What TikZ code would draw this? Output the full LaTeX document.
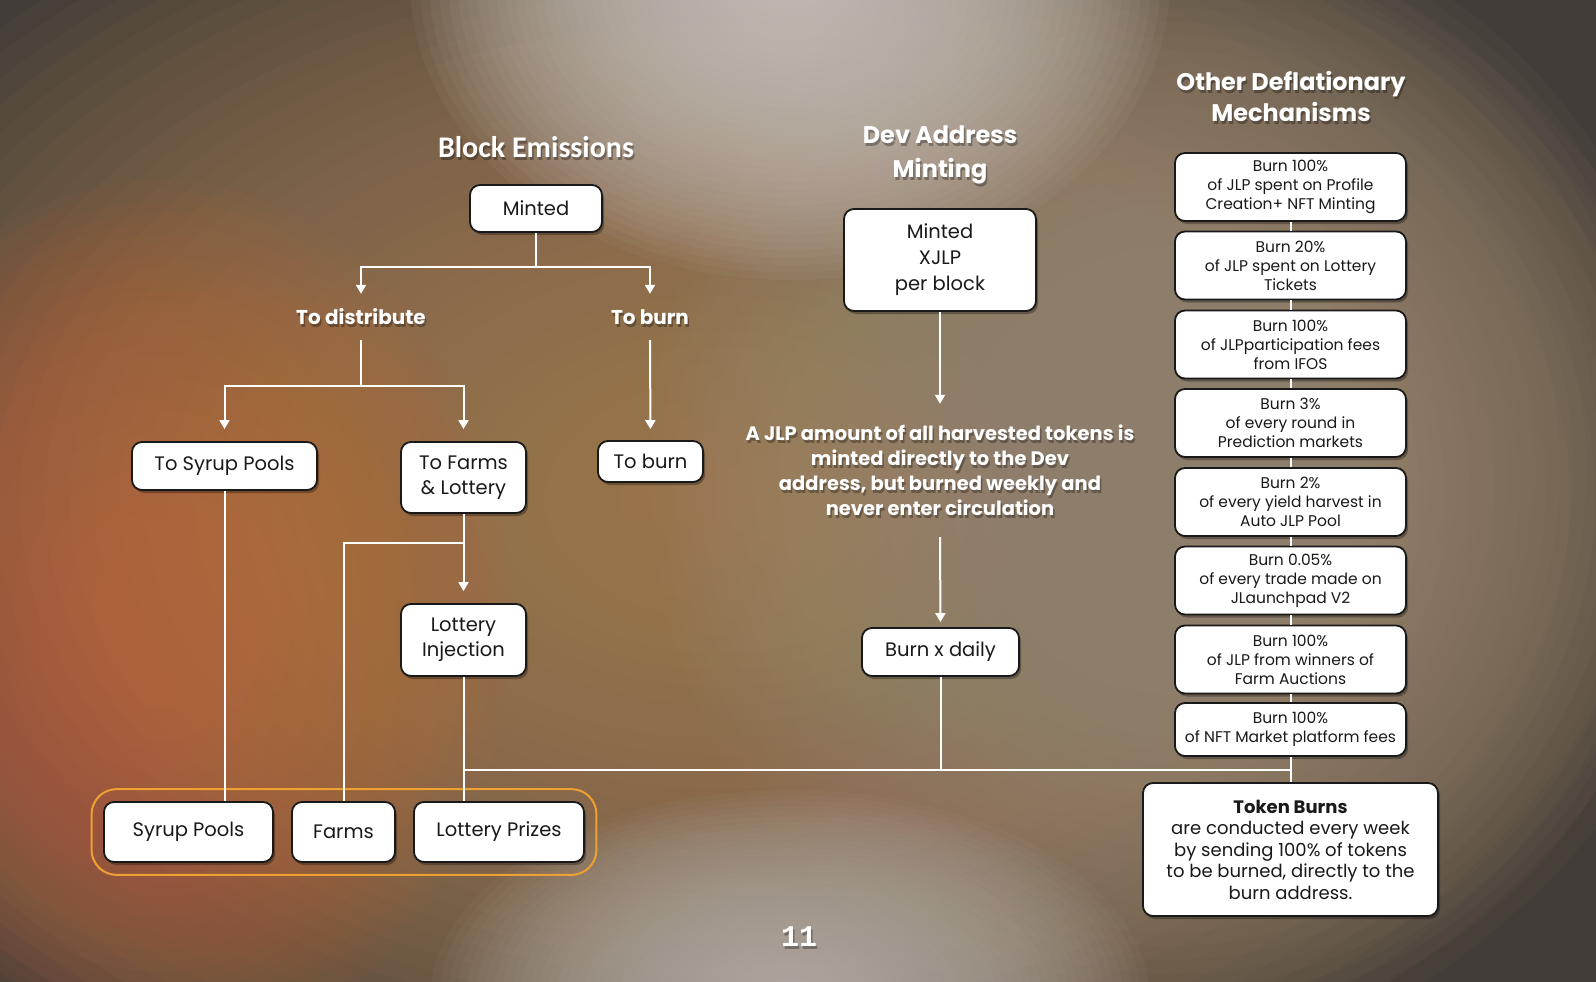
\documentclass[tikz,border=0pt]{standalone}
\usepackage{fontspec}
\setmainfont{Poppins}
\newfontfamily\carl{Carlito}
\newfontfamily\monob{Liberation Mono}
\usetikzlibrary{arrows.meta,shadows,fit,calc}

\definecolor{bgbase}{RGB}{66,61,56}
\definecolor{bgtan}{RGB}{172,132,92}
\definecolor{bgorng}{RGB}{192,106,60}
\definecolor{bglite}{RGB}{206,201,195}
\definecolor{bggray}{RGB}{162,146,128}
\definecolor{obox}{RGB}{238,160,50}
\definecolor{ink}{RGB}{25,25,25}

\tikzset{
 box/.style={draw=ink, line width=1.8pt, fill=white, rounded corners=10pt, inner sep=0pt,
   align=center, text=ink, font=\fontsize{19.5}{25}\selectfont,
   drop shadow={shadow xshift=2pt, shadow yshift=-3pt, opacity=0.3, fill=black}},
 sbox/.style={box, minimum width=231pt, minimum height=68pt, font=\fontsize{15.5}{19}\selectfont},
 conn/.style={draw=white, line width=2pt},
 arr/.style={conn, -{Triangle[width=10pt,length=9pt]}},
 wlbl/.style={text=white, font=\bfseries\fontsize{20}{24}\selectfont, inner sep=0pt, align=center},
 wtitle/.style={text=white, font=\bfseries\fontsize{24}{32}\selectfont, inner sep=0pt, align=center},
 obrd/.style={draw=obox, line width=2pt, rounded corners=25pt},
}
\newcommand\shlabel[4]{%
  \node[#3, text=black, text opacity=0.3] (#1-sh) at ($#2+(1.5,3)$) {#4};
  \node[#3] (#1) at #2 {#4};}
% soft glow: many concentric translucent ellipses
\newcommand\glow[5]{%
  \foreach \k in {1,...,40}{\fill[#4, opacity=#5] #1 ellipse ({#2/40*\k} and {#3/40*\k});}}

\begin{document}
\begin{tikzpicture}[x=1pt,y=-1pt]
\useasboundingbox (0,0) rectangle (1596,982);
% background
\begin{scope}
\clip (0,0) rectangle (1596,982);
\fill[bgbase] (0,0) rectangle (1596,982);
\glow{(720,500)}{1000}{680}{bgtan}{0.055}
\glow{(1170,470)}{520}{560}{bggray}{0.049}
\glow{(160,620)}{350}{440}{bgorng}{0.049}
\glow{(790,-20)}{380}{300}{bglite}{0.058}
\glow{(790,1000)}{360}{210}{bglite!92!black}{0.052}
\end{scope}

% titles
\shlabel{blockem}{(536,147)}{wtitle, font=\carl\bfseries\fontsize{30}{32}\selectfont}{Block Emissions}
\shlabel{devtitle}{(940,155)}{wtitle, font=\bfseries\fontsize{24}{34}\selectfont}{Dev Address\\Minting}
\shlabel{othertitle}{(1291,96)}{wtitle, font=\bfseries\fontsize{24}{31}\selectfont}{Other Deflationary\\Mechanisms}

% block emissions tree
\node[box, minimum width=132pt, minimum height=47pt] (minted) at (536,208.5) {Minted};
\shlabel{dist}{(361,317)}{wlbl, minimum height=46pt}{To distribute}
\shlabel{burnlbl}{(650,317)}{wlbl, minimum height=46pt}{To burn}
\node[box, minimum width=185pt, minimum height=48pt] (tosyrup) at (224.5,466) {To Syrup Pools};
\node[box, minimum width=125pt, minimum height=71pt] (tofarms) at (463.5,477.5) {To Farms\\\& Lottery};
\node[box, minimum width=105pt, minimum height=41pt] (toburn) at (650.5,461.5) {To burn};
\node[box, minimum width=125pt, minimum height=72pt] (lottinj) at (463.5,640) {Lottery\\Injection};
\node[box, minimum width=169pt, minimum height=60pt] (syrup) at (188.5,832) {Syrup Pools};
\node[box, minimum width=103pt, minimum height=60pt] (farms) at (343.5,832) {Farms};
\node[box, minimum width=170pt, minimum height=60pt] (prizes) at (499,832) {Lottery Prizes};
\node[obrd, fit=(syrup)(farms)(prizes), inner xsep=11.5pt, inner ysep=12pt] (group) {};

\coordinate (jm) at (536,267);
\coordinate (jd) at (361,386);
\coordinate (jf) at (463.5,543);
\draw[conn] (minted.south) -- (jm);
\draw[arr] (jm) -| (dist.north);
\draw[arr] (jm) -| (burnlbl.north);
\draw[conn] (dist.south) -- (jd);
\draw[arr, shorten >=12pt] (jd) -| (tosyrup.north);
\draw[arr, shorten >=12pt] (jd) -| (tofarms.north);
\draw[arr, shorten >=11pt] (burnlbl.south) -- (toburn.north);
\draw[arr, shorten >=12pt] (tofarms.south) -- (lottinj.north);
\draw[conn] (jf) -| (farms.north);
\draw[conn] (tosyrup.south) -- (tosyrup.south |- syrup.north);
\draw[conn] (lottinj.south) -- (lottinj.south |- prizes.north);

% dev address
\node[box, minimum width=192pt, minimum height=102pt, font=\fontsize{19.5}{26}\selectfont] (mx) at (940,260) {Minted\\XJLP\\per block};
\shlabel{big}{(940,470.5)}{wlbl, font=\bfseries\fontsize{19.5}{25}\selectfont, minimum height=133pt}{A JLP amount of all harvested tokens is\\minted directly to the Dev\\address, but burned weekly and\\never enter circulation}
\node[box, minimum width=157pt, minimum height=48pt] (burnx) at (940.5,652) {Burn x daily};
\draw[arr] (mx.south) -- (big.north);
\draw[arr, shorten >=5pt] (big.south) -- (burnx.north);

% other mechanisms
\node[sbox] (s1) at (1290.5,187) {Burn 100\%\\of JLP spent on Profile\\Creation+ NFT Minting};
\node[sbox] (s2) at (1290.5,265.5) {Burn 20\%\\of JLP spent on Lottery\\Tickets};
\node[sbox] (s3) at (1290.5,344.5) {Burn 100\%\\of JLPparticipation fees\\from IFOS};
\node[sbox] (s4) at (1290.5,423) {Burn 3\%\\of every round in\\Prediction markets};
\node[sbox] (s5) at (1290.5,502) {Burn 2\%\\of every yield harvest in\\Auto JLP Pool};
\node[sbox] (s6) at (1290.5,580.5) {Burn 0.05\%\\of every trade made on\\JLaunchpad V2};
\node[sbox] (s7) at (1290.5,659.5) {Burn 100\%\\of JLP from winners of\\Farm Auctions};
\node[sbox, minimum height=53pt] (s8) at (1290.5,729.5) {Burn 100\%\\of NFT Market platform fees};
\node[box, minimum width=295pt, minimum height=133pt, font=\fontsize{18}{21.5}\selectfont] (tokens) at (1290.5,849.5) {\textbf{Token Burns}\\are conducted every week\\by sending 100\% of tokens\\to be burned, directly to the\\burn address.};
\draw[conn] (s1.south) -- (s2.north);
\draw[conn] (s2.south) -- (s3.north);
\draw[conn] (s3.south) -- (s4.north);
\draw[conn] (s4.south) -- (s5.north);
\draw[conn] (s5.south) -- (s6.north);
\draw[conn] (s6.south) -- (s7.north);
\draw[conn] (s7.south) -- (s8.north);
\draw[conn] (s8.south) -- (tokens.north);

% common burn line
\coordinate (hb) at (463.5,770);
\coordinate (he) at (1290.5,770);
\draw[conn] (hb) -- (he);
\draw[conn] (burnx.south) -- (burnx.south |- he);

% page number
\shlabel{page}{(799,937)}{wlbl, font=\monob\bfseries\fontsize{30}{30}\selectfont}{11}
\end{tikzpicture}
\end{document}
